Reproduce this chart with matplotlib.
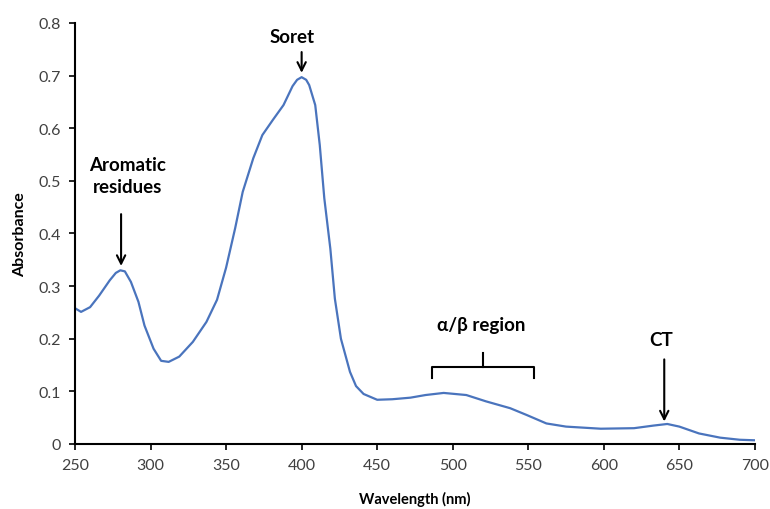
import matplotlib.pyplot as plt

# spectrum
wavelength = [250, 254, 260, 266, 273, 277, 280, 283, 287, 292, 296, 302, 307, 312,
              319, 328, 337, 344, 350, 356, 361, 368, 374, 381, 388, 394, 397, 400,
              403, 405, 409, 412, 415, 419, 422, 426, 432, 436, 441, 450, 460, 472,
              482, 494, 509, 522, 538, 549, 562, 575, 598, 620, 633, 642, 650, 663,
              677, 690, 700]
absorbance = [0.258, 0.251, 0.260, 0.282, 0.311, 0.325, 0.330, 0.328, 0.308, 0.270,
              0.225, 0.181, 0.158, 0.156, 0.166, 0.194, 0.232, 0.274, 0.335, 0.410,
              0.479, 0.543, 0.587, 0.616, 0.644, 0.680, 0.692, 0.697, 0.692, 0.682,
              0.644, 0.568, 0.467, 0.371, 0.276, 0.200, 0.137, 0.110, 0.095, 0.084,
              0.085, 0.088, 0.093, 0.097, 0.093, 0.081, 0.068, 0.055, 0.039, 0.033,
              0.029, 0.030, 0.035, 0.038, 0.033, 0.020, 0.012, 0.008, 0.007]

x_ticks = [250, 300, 350, 400, 450, 500, 550, 600, 650, 700]
y_ticks = [0, 0.1, 0.2, 0.3, 0.4, 0.5, 0.6, 0.7, 0.8]
y_tick_labels = ['0', '0.1', '0.2', '0.3', '0.4', '0.5', '0.6', '0.7', '0.8']

plt.rcParams['font.family'] = ['Lato', 'DejaVu Sans']

fig = plt.figure(figsize=(7.7, 5.1), dpi=100)
ax = fig.add_axes([0.0974, 0.1275, 0.883, 0.8255])

ax.plot(wavelength, absorbance, color='#4a74bd', lw=1.6)

ax.set_xlim(250, 700)
ax.set_ylim(0, 0.8)
ax.set_xticks(x_ticks)
ax.set_yticks(y_ticks)
ax.set_yticklabels(y_tick_labels)
ax.tick_params(labelsize=11.5, labelcolor='#404040', direction='out', length=4,
               width=1.2, pad=6)
for s in ['top', 'right']:
    ax.spines[s].set_visible(False)
for s in ['left', 'bottom']:
    ax.spines[s].set_linewidth(1.5)
    ax.spines[s].set_color('black')

ax.set_xlabel('Wavelength (nm)', fontsize=10.5, fontweight='bold', labelpad=14)
ax.set_ylabel('Absorbance', fontsize=11.5, fontweight='bold', labelpad=8)

arrow = dict(arrowstyle='->', color='black', lw=1.5, mutation_scale=15)
txt = dict(fontsize=13.5, fontweight='bold', ha='center', va='center', color='black')

ax.text(285, 0.51, 'Aromatic\nresidues', linespacing=1.3, **txt)
ax.annotate('', xy=(280.5, 0.333), xytext=(280.5, 0.442), arrowprops=arrow)

ax.text(393.5, 0.775, 'Soret', **txt)
ax.annotate('', xy=(400, 0.700), xytext=(400, 0.750), arrowprops=arrow)

ax.text(519, 0.227, 'α/β region', **txt)
ax.plot([486, 486, 554, 554], [0.125, 0.147, 0.147, 0.125], color='black', lw=1.5)
ax.plot([520, 520], [0.147, 0.172], color='black', lw=1.5)

ax.text(638, 0.198, 'CT', **txt)
ax.annotate('', xy=(640, 0.0375), xytext=(640, 0.166), arrowprops=arrow)

fig.savefig('out.png', dpi=100)
